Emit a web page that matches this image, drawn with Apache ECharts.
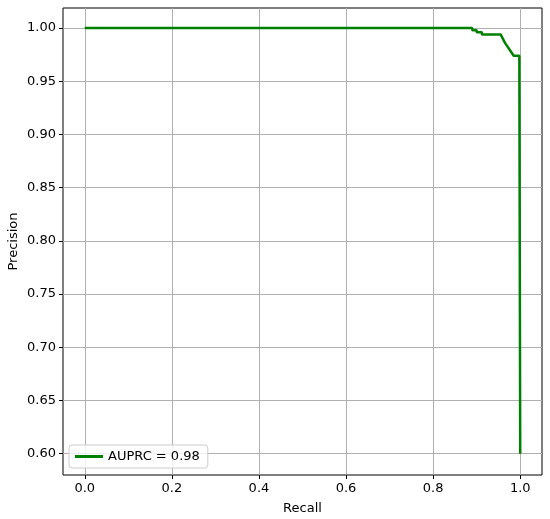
<!DOCTYPE html>
<html>
<head>
<meta charset="utf-8">
<script src="https://cdn.jsdelivr.net/npm/echarts@6/dist/echarts.min.js"></script>
<style>
  html, body { margin: 0; padding: 0; background: #fff; }
  #chart { width: 550px; height: 519px; }
</style>
</head>
<body>
<div id="chart"></div>
<script>
// PR curve
const recall = [0, 0.89, 0.89, 0.90, 0.90, 0.912, 0.912, 0.955, 0.96, 0.965, 0.97, 0.975, 0.98, 0.985, 0.998, 0.998, 1.0, 1.0]
const precision = [1.0, 1.0, 0.998, 0.998, 0.996, 0.996, 0.994, 0.994, 0.99, 0.986, 0.983, 0.98, 0.977, 0.974, 0.974, 0.962, 0.962, 0.60]
const xTicks = [0, 0.2, 0.4, 0.6, 0.8, 1.0]
const yTicks = [0.60, 0.65, 0.70, 0.75, 0.80, 0.85, 0.90, 0.95, 1.00]
const legendLabel = 'AUPRC = 0.98'

const font = 'DejaVu Sans'
const chart = echarts.init(document.getElementById('chart'))

chart.setOption({
  animation: false,
  textStyle: { fontFamily: font },
  grid: {
    left: 63, right: 8, top: 8, bottom: 44,
    outerBoundsMode: 'none',
    show: true, borderColor: '#000', borderWidth: 1
  },
  legend: {
    left: 69, bottom: 51,
    data: [legendLabel],
    orient: 'vertical',
    backgroundColor: 'rgba(255,255,255,0.8)',
    borderColor: '#cccccc', borderWidth: 1, borderRadius: 3,
    padding: [5, 8, 5, 6],
    itemWidth: 28, itemHeight: 3, itemGap: 8,
    icon: 'rect',
    textStyle: { fontSize: 13, color: '#000', fontFamily: font }
  },
  xAxis: {
    type: 'value',
    min: -0.05, max: 1.05,
    name: 'Recall', nameLocation: 'middle', nameGap: 27,
    nameMoveOverlap: false,
    nameTextStyle: { fontSize: 13, color: '#000', fontFamily: font },
    axisLine: { show: false, onZero: false },
    axisTick: { show: true, length: 4, lineStyle: { color: '#000' }, customValues: xTicks },
    axisLabel: {
      color: '#000', fontSize: 13, margin: 7, fontFamily: font,
      customValues: xTicks,
      formatter: v => v.toFixed(1)
    },
    splitLine: { show: true, lineStyle: { color: '#b0b0b0', width: 1 } }
  },
  yAxis: {
    type: 'value',
    min: 0.58, max: 1.0188,
    name: 'Precision', nameLocation: 'middle', nameGap: 43,
    nameMoveOverlap: false,
    nameTextStyle: { fontSize: 13, color: '#000', fontFamily: font },
    axisLine: { show: false, onZero: false },
    axisTick: { show: true, length: 4, lineStyle: { color: '#000' }, customValues: yTicks },
    axisLabel: {
      color: '#000', fontSize: 13, margin: 7, fontFamily: font,
      customValues: yTicks,
      formatter: v => v.toFixed(2)
    },
    splitLine: { show: true, lineStyle: { color: '#b0b0b0', width: 1 } }
  },
  series: [{
    name: legendLabel,
    type: 'line',
    data: recall.map((r, i) => [r, precision[i]]),
    showSymbol: false,
    itemStyle: { color: '#008000' },
    lineStyle: { color: '#008000', width: 2.5 }
  }]
})
</script>
</body>
</html>
